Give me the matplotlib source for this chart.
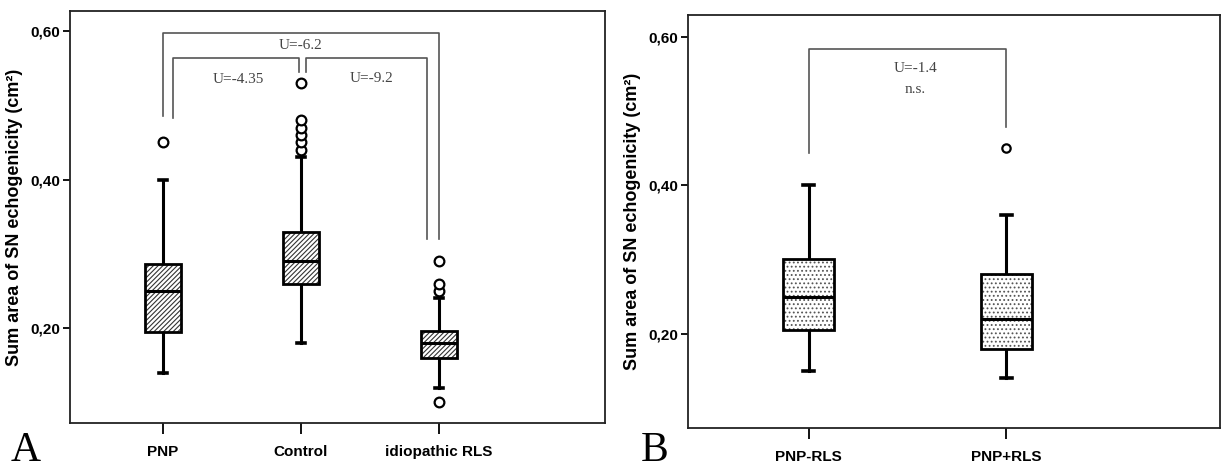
import matplotlib
matplotlib.use("Agg")
import matplotlib.pyplot as plt
from matplotlib import font_manager
from matplotlib.patches import PathPatch

# ---------------- data ----------------
cats_a = ["PNP", "Control", "idiopathic RLS"]
q1_a = [0.195, 0.26, 0.16]
med_a = [0.25, 0.29, 0.18]
q3_a = [0.286, 0.33, 0.196]
wlo_a = [0.14, 0.18, 0.12]
whi_a = [0.40, 0.43, 0.24]
fliers_a = [[0.45], [0.44, 0.45, 0.46, 0.47, 0.48, 0.53], [0.10, 0.25, 0.26, 0.29]]

cats_b = ["PNP-RLS", "PNP+RLS"]
q1_b = [0.205, 0.18]
med_b = [0.25, 0.22]
q3_b = [0.30, 0.28]
wlo_b = [0.15, 0.14]
whi_b = [0.40, 0.36]
fliers_b = [[], [0.45]]

yticks = [0.20, 0.40, 0.60]
ytick_labels = ["0,20", "0,40", "0,60"]
ylabel = "Sum area of SN echogenicity (cm²)"

# annotations: U statistics
u_outer_a = "U=-6.2"
u_left_a = "U=-4.35"
u_right_a = "U=-9.2"
u_b = "U=-1.4"
ns_b = "n.s."

# ---------------- fonts ----------------
avail = {f.name for f in font_manager.fontManager.ttflist}
label_font = ["Liberation Sans Narrow", "Liberation Sans", "DejaVu Sans"]
label_font = [f for f in label_font if f in avail] or ["DejaVu Sans"]
serif_font = ["Liberation Serif", "DejaVu Serif"]

plt.rcParams["hatch.linewidth"] = 0.8

fig = plt.figure(figsize=(12.23, 4.76), dpi=100)
axA = fig.add_axes([0.0572, 0.111, 0.4375, 0.866])
axB = fig.add_axes([0.5625, 0.101, 0.435, 0.867])


def make_stats(cats, q1, med, q3, wlo, whi, fl):
    out = []
    for i, c in enumerate(cats):
        out.append(dict(label=c, q1=q1[i], med=med[i], q3=q3[i],
                        whislo=wlo[i], whishi=whi[i], fliers=fl[i]))
    return out


def draw(ax, stats, hatch, width, hatchcolor, msize):
    pos = list(range(1, len(stats) + 1))
    bp = ax.bxp(stats, positions=pos, widths=width, patch_artist=True,
                showfliers=True,
                boxprops=dict(linewidth=2.0, edgecolor="black", facecolor="none"),
                medianprops=dict(color="black", linewidth=2.2),
                whiskerprops=dict(color="black", linewidth=2.2),
                capprops=dict(color="black", linewidth=2.6),
                capwidths=0.22 * width,
                flierprops=dict(marker="o", markerfacecolor="white",
                                markeredgecolor="black", markersize=msize,
                                markeredgewidth=1.6))
    for b in bp["boxes"]:
        b.set_zorder(3)
        fill = PathPatch(b.get_path(), facecolor="white", edgecolor=hatchcolor,
                         hatch=hatch, linewidth=0, zorder=2)
        ax.add_patch(fill)
    return bp


statsA = make_stats(cats_a, q1_a, med_a, q3_a, wlo_a, whi_a, fliers_a)
statsB = make_stats(cats_b, q1_b, med_b, q3_b, wlo_b, whi_b, fliers_b)

bpA = draw(axA, statsA, "///////", 0.26, "#333333", 7)
bpB = draw(axB, statsB, "....", 0.255, "#555555", 6)

axA.set_xlim(0.33, 4.2)
axA.set_ylim(0.072, 0.627)
axB.set_xlim(0.39, 3.08)
axB.set_ylim(0.073, 0.629)

for ax, cats in ((axA, cats_a), (axB, cats_b)):
    ax.set_yticks(yticks)
    ax.set_yticklabels(ytick_labels, fontfamily=label_font, fontweight="bold", fontsize=11)
    ax.set_xticks(range(1, len(cats) + 1))
    ax.set_xticklabels(cats, fontfamily=label_font, fontweight="bold", fontsize=11)
    ax.tick_params(axis="y", direction="out", length=5, width=1.3, pad=2)
    ax.tick_params(axis="x", direction="out", length=8, width=1.3, pad=8)
    for s in ax.spines.values():
        s.set_linewidth(1.3)
        s.set_color("#222222")
    ax.set_ylabel(ylabel, fontfamily=["Liberation Sans", "DejaVu Sans"],
                  fontweight="bold", fontsize=13, labelpad=5)

# ---------------- brackets panel A ----------------
lc = "#555555"
lw = 1.2
# outer PNP - RLS
axA.plot([1, 1, 3, 3], [0.485, 0.597, 0.597, 0.32], color=lc, lw=lw)
# inner PNP - Control
axA.plot([1.075, 1.075, 1.99, 1.99], [0.483, 0.563, 0.563, 0.545], color=lc, lw=lw)
# inner Control - RLS
axA.plot([2.035, 2.035, 2.91, 2.91], [0.545, 0.563, 0.563, 0.32], color=lc, lw=lw)
tkw = dict(fontfamily=serif_font, fontsize=11, color="#444444", ha="center", va="center")
axA.text(2.0, 0.58, u_outer_a, **tkw)
axA.text(1.545, 0.535, u_left_a, **tkw)
axA.text(2.51, 0.536, u_right_a, **tkw)

# ---------------- bracket panel B ----------------
axB.plot([1, 1, 2, 2], [0.444, 0.583, 0.583, 0.478], color=lc, lw=lw)
axB.text(1.54, 0.557, u_b, **tkw)
axB.text(1.54, 0.529, ns_b, **tkw)

# panel letters
fig.text(0.009, 0.012, "A", fontfamily=serif_font, fontsize=30, ha="left", va="bottom")
fig.text(0.524, 0.012, "B", fontfamily=serif_font, fontsize=30, ha="left", va="bottom")

fig.savefig("out.png", dpi=100)
